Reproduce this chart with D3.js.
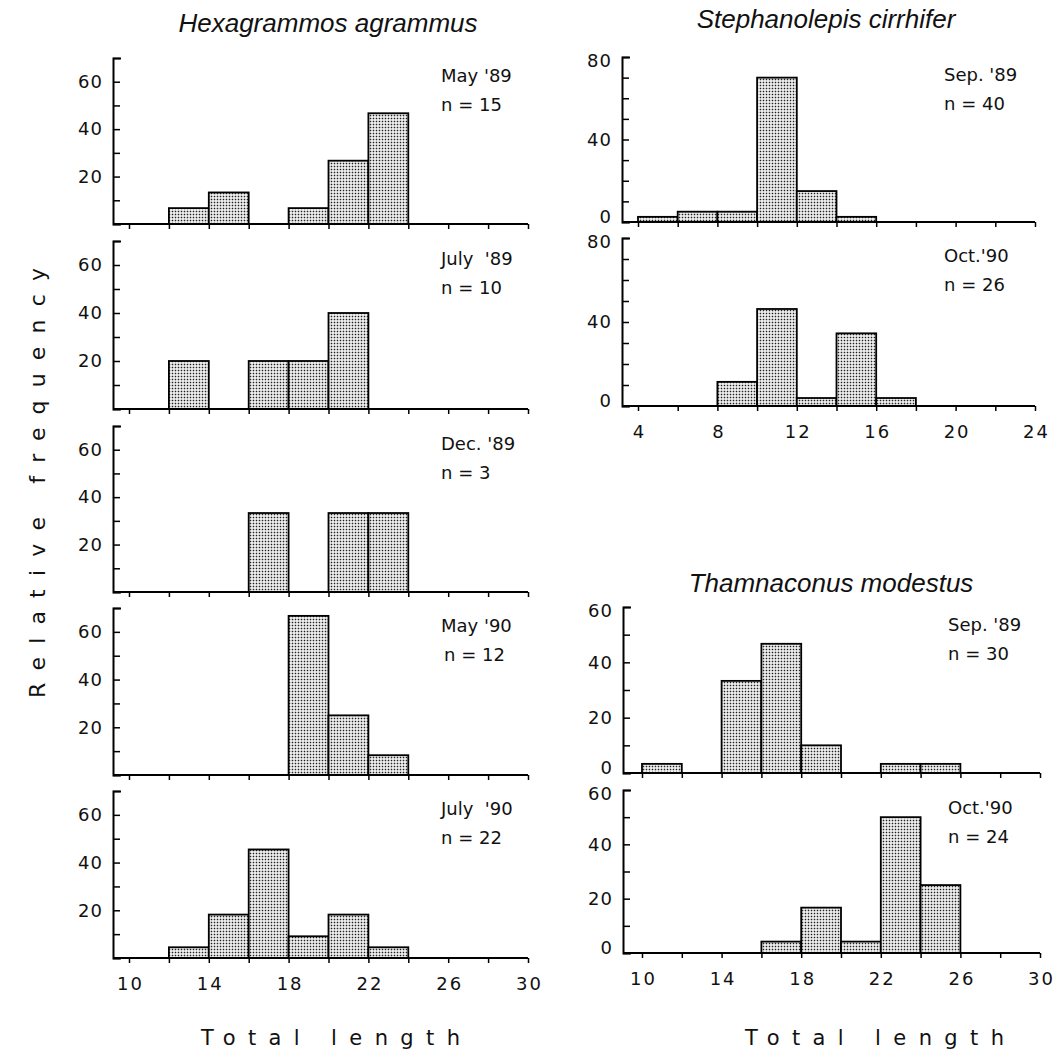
<!DOCTYPE html>
<html>
<head>
<meta charset="utf-8">
<script src="https://cdn.jsdelivr.net/npm/d3@7"></script>
<style>
  body { margin: 0; background: #fff; }
  text { fill: #111; }
</style>
</head>
<body>
<svg id="chart" width="1060" height="1064"></svg>
<script>
// length classes (lower bound of each 2 cm bin)
const hexBins = [12, 14, 16, 18, 20, 22];
const stepBins = [4, 6, 8, 10, 12, 14, 16];
const thamBins = [10, 12, 14, 16, 18, 20, 22, 24];

// relative frequency (%) per bin
const hexMay89 = [6.7, 13.3, 0, 6.7, 26.7, 46.7];
const hexJul89 = [20, 0, 20, 20, 40, 0];
const hexDec89 = [0, 0, 33.3, 0, 33.3, 33.3];
const hexMay90 = [0, 0, 0, 66.7, 25, 8.3];
const hexJul90 = [4.5, 18.2, 45.5, 9.1, 18.2, 4.5];

const stepSep89 = [2.5, 5, 5, 70, 15, 2.5, 0];
const stepOct90 = [0, 0, 11.5, 46.2, 3.8, 34.6, 3.8];

const thamSep89 = [3.3, 0, 33.3, 46.7, 10, 0, 3.3, 3.3];
const thamOct90 = [0, 0, 0, 4.2, 16.7, 4.2, 50, 25];

// tick labels
const hexYLabels = [20, 40, 60];
const stepYLabels = [0, 40, 80];
const thamYLabels = [0, 20, 40, 60];
const hexXLabels = [10, 14, 18, 22, 26, 30];
const stepXLabels = [4, 8, 12, 16, 20, 24];
const thamXLabels = [10, 14, 18, 22, 26, 30];

const svg = d3.select("#chart");

// stipple fill like the printed figure
const defs = svg.append("defs");
const pat = defs.append("pattern")
  .attr("id", "stipple")
  .attr("patternUnits", "userSpaceOnUse")
  .attr("width", 3).attr("height", 3);
pat.append("rect").attr("width", 3).attr("height", 3).attr("fill", "#fff");
pat.append("rect").attr("x", 0.7).attr("y", 0.7).attr("width", 1.6).attr("height", 1.6).attr("fill", "#222");

// column settings: y axis position and x range in pixels
const colLeft  = { axisX: 113, xDomain: [10, 30], xRange: [129, 528], noteX: 441 };
const colStep  = { axisX: 622, xDomain: [4, 24],  xRange: [638, 1035], noteX: 944 };
const colTham  = { axisX: 623, xDomain: [10, 30], xRange: [642, 1040], noteX: 948 };

const panels = [
  { col: colLeft, bins: hexBins, values: hexMay89, top: 58,  bottom: 224, yMax: 70, yLabels: hexYLabels, month: "May '89",  n: "n = 15" },
  { col: colLeft, bins: hexBins, values: hexJul89, top: 241, bottom: 409, yMax: 70, yLabels: hexYLabels, month: "July  '89", n: "n = 10" },
  { col: colLeft, bins: hexBins, values: hexDec89, top: 426, bottom: 592, yMax: 70, yLabels: hexYLabels, month: "Dec. '89", n: "n = 3" },
  { col: colLeft, bins: hexBins, values: hexMay90, top: 608, bottom: 775, yMax: 70, yLabels: hexYLabels, month: "May '90",  n: "n = 12", nDx: 3 },
  { col: colLeft, bins: hexBins, values: hexJul90, top: 791, bottom: 958, yMax: 70, yLabels: hexYLabels, month: "July  '90", n: "n = 22", xLabels: hexXLabels },
  { col: colStep, bins: stepBins, values: stepSep89, top: 57, bottom: 222, yMax: 80, yLabels: stepYLabels, month: "Sep. '89", n: "n = 40" },
  { col: colStep, bins: stepBins, values: stepOct90, top: 238, bottom: 406, yMax: 80, yLabels: stepYLabels, month: "Oct.'90", n: "n = 26", xLabels: stepXLabels },
  { col: colTham, bins: thamBins, values: thamSep89, top: 607, bottom: 773, yMax: 60, yLabels: thamYLabels, month: "Sep. '89", n: "n = 30" },
  { col: colTham, bins: thamBins, values: thamOct90, top: 790, bottom: 953, yMax: 60, yLabels: thamYLabels, month: "Oct.'90", n: "n = 24", xLabels: thamXLabels }
];

panels.forEach(p => {
  const x = d3.scaleLinear().domain(p.col.xDomain).range(p.col.xRange);
  const y = d3.scaleLinear().domain([0, p.yMax]).range([p.bottom, p.top]);
  const g = svg.append("g");

  // bars
  const data = p.bins.map((b, i) => ({ start: b, v: p.values[i] })).filter(d => d.v > 0);
  g.selectAll("rect.bar").data(data).enter().append("rect")
    .attr("class", "bar")
    .attr("x", d => x(d.start))
    .attr("width", d => x(d.start + 2) - x(d.start))
    .attr("y", d => y(d.v))
    .attr("height", d => y(0) - y(d.v))
    .attr("fill", "url(#stipple)")
    .attr("stroke", "#000")
    .attr("stroke-width", 1.8);

  // x axis
  const xAxis = d3.axisBottom(x)
    .tickValues(d3.range(p.col.xDomain[0], p.col.xDomain[1] + 1, 2))
    .tickSize(5)
    .tickPadding(p.xLabels ? 14 : 0)
    .tickFormat(d => (p.xLabels && p.xLabels.includes(d)) ? d : "");
  const gx = g.append("g").attr("transform", `translate(0,${p.bottom})`).call(xAxis);
  gx.select(".domain").remove();
  gx.selectAll(".tick line").attr("stroke", "#000").attr("stroke-width", 1.5);
  gx.selectAll(".tick text")
    .attr("font-family", "DejaVu Sans, sans-serif")
    .attr("font-size", 18)
    .attr("letter-spacing", 2)
    .attr("dx", 1);
  g.append("line")
    .attr("x1", p.col.axisX).attr("x2", x(p.col.xDomain[1]))
    .attr("y1", p.bottom).attr("y2", p.bottom)
    .attr("stroke", "#000").attr("stroke-width", 2);

  // y axis, ticks pointing inward
  const yAxis = d3.axisLeft(y)
    .tickValues(d3.range(0, p.yMax + 1, 10))
    .tickSizeInner(-7)
    .tickSizeOuter(-8)
    .tickPadding(10)
    .tickFormat(d => p.yLabels.includes(d) ? d : "");
  const gy = g.append("g").attr("transform", `translate(${p.col.axisX},0)`).call(yAxis);
  gy.select(".domain").attr("stroke", "#000").attr("stroke-width", 2);
  gy.selectAll(".tick line").attr("stroke", "#000").attr("stroke-width", 1.5);
  gy.selectAll(".tick text")
    .attr("font-family", "DejaVu Sans, sans-serif")
    .attr("font-size", 18)
    .attr("letter-spacing", 1)
    .attr("transform", d => d === 0 ? "translate(0,-5)" : d === p.yMax ? "translate(0,4)" : null);

  // month / sample size note
  g.append("text")
    .attr("x", p.col.noteX).attr("y", p.top + 24)
    .attr("font-family", "DejaVu Sans, sans-serif").attr("font-size", 18)
    .attr("xml:space", "preserve")
    .text(p.month);
  g.append("text")
    .attr("x", p.col.noteX + (p.nDx || 0)).attr("y", p.top + 53)
    .attr("font-family", "DejaVu Sans, sans-serif").attr("font-size", 18)
    .text(p.n);
});

// species titles
const titles = [
  { text: "Hexagrammos agrammus", x: 328, y: 32 },
  { text: "Stephanolepis cirrhifer", x: 826, y: 28 },
  { text: "Thamnaconus modestus", x: 831, y: 592 }
];
svg.selectAll("text.title").data(titles).enter().append("text")
  .attr("class", "title")
  .attr("x", d => d.x).attr("y", d => d.y)
  .attr("text-anchor", "middle")
  .attr("font-family", "Liberation Sans, Arial, sans-serif")
  .attr("font-style", "italic")
  .attr("font-size", 26)
  .text(d => d.text);

// axis titles
svg.append("text")
  .attr("transform", "translate(45,698) rotate(-90)")
  .attr("font-family", "DejaVu Sans, sans-serif")
  .attr("font-size", 22)
  .attr("textLength", 430)
  .attr("lengthAdjust", "spacing")
  .text("Relative frequency");

[201, 745].forEach(x0 => {
  svg.append("text")
    .attr("x", x0).attr("y", 1045)
    .attr("font-family", "DejaVu Sans, sans-serif")
    .attr("font-size", 21)
    .attr("textLength", 259)
    .attr("lengthAdjust", "spacing")
    .text("Total length");
});
</script>
</body>
</html>
